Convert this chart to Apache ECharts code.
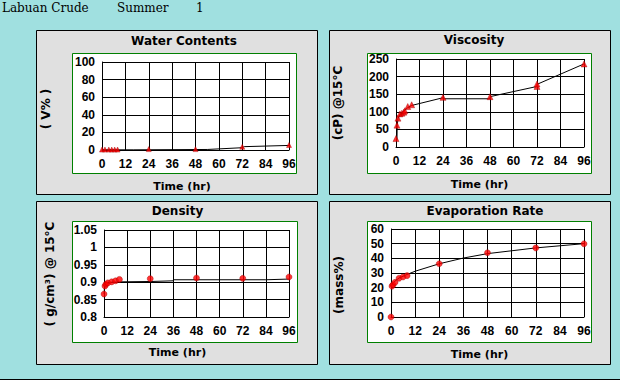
<!DOCTYPE html>
<html><head><meta charset="utf-8">
<script src="https://cdn.jsdelivr.net/npm/echarts@6/dist/echarts.min.js"></script>
<style>html,body{margin:0;padding:0;background:#a0e0e0;}#c{width:620px;height:380px;}</style>
</head><body><div id="c"></div><script>
// ---- data ----
const xTicks = [0, 12, 24, 36, 48, 60, 72, 84, 96];

const waterHours  = [0, 1.5, 3.5, 5, 6.5, 8, 24, 48, 72, 96];
const waterValues = [0.5, 0.5, 0.5, 0.5, 0.5, 0.5, 1, 1, 3.7, 5.7];
const waterFitHours  = [0, 16, 36, 54, 72, 73, 96];
const waterFitValues = [0.2, 0.2, 0.4, 0.6, 2.6, 3.8, 5.2];

const viscHours  = [0, 0.5, 1, 2, 3, 4, 4.5, 6, 8, 24, 48, 72, 72, 96];
const viscValues = [24, 62, 82, 94, 96, 99, 103, 115, 120, 141, 143, 172, 179, 236];
const viscFitHours  = [0.5, 0.6, 1, 2, 4, 6, 8, 24, 24, 48, 48, 72, 72, 96];
const viscFitValues = [20, 60, 80, 92, 102, 112, 118, 140, 137, 137, 143, 172, 178, 236];

const densHours  = [0, 0.5, 1, 2, 4, 6, 8, 24, 48, 72, 96];
const densValues = [0.866, 0.889, 0.894, 0.898, 0.901, 0.904, 0.908, 0.910, 0.912, 0.911, 0.915];
const densFitHours  = [0, 0.3, 1, 2, 4, 8, 24, 24, 36, 36, 84, 84, 96];
const densFitValues = [0.866, 0.885, 0.893, 0.897, 0.900, 0.901, 0.902, 0.904, 0.904, 0.907, 0.907, 0.909, 0.909];

const evapHours  = [0, 0.5, 1, 2, 4, 6, 8, 24, 48, 72, 96];
const evapValues = [0, 21, 22, 23.6, 26.4, 27.3, 28.2, 36.3, 43.8, 47.1, 49.9];
const evapFitHours  = [0.3, 0.3, 1, 2, 4, 8, 12, 24, 36, 48, 72, 96];
const evapFitValues = [9, 21, 23, 24.5, 26.6, 29, 31.2, 36.3, 40.2, 43.2, 47.1, 50];

const panelTitles = ['Water Contents', 'Viscosity', 'Density', 'Evaporation Rate'];
const yNames = ['( V% )', '(cP) @15°C', '( g/cm³) @ 15°C', '(mass%)'];
const xName = 'Time (hr)';
const header = ['Labuan Crude', 'Summer', '1'];

// ---- layout ----
const NUM_FONT = '"Liberation Sans", Arial, sans-serif';
const TXT_FONT = 'bold 12px "DejaVu Sans", sans-serif';
const grids = [
  {left: 102, top: 62, width: 187, height: 88},
  {left: 396, top: 59, width: 188, height: 88},
  {left: 104, top: 230, width: 185, height: 87},
  {left: 391, top: 229, width: 193, height: 88}
];
const yRanges = [
  {min: 0, max: 100, interval: 20},
  {min: 0, max: 250, interval: 50},
  {min: 0.8, max: 1.05, interval: 0.05},
  {min: 0, max: 60, interval: 10}
];
const panels = [
  [36.5, 30.5, 281, 164], [329.5, 30.5, 281, 164],
  [36.5, 201.5, 281, 163], [329.5, 201.5, 281, 163]
];
const boxes = [
  [72.5, 53.5, 224, 120], [367.5, 53.5, 224, 120],
  [72.5, 221.5, 225, 121], [367.5, 221.5, 224, 121]
];
const titlePos = [[184, 41], [474, 40], [177.5, 210.5], [485, 210.5]];
const xNamePos = [[182, 186], [479.5, 184.5], [177.5, 352.5], [479.5, 354]];
const yNamePos = [[46, 109], [338, 103], [50, 274], [338.5, 285]];

const scatterSets = [
  [waterHours, waterValues, 'triangle', 5],
  [viscHours, viscValues, 'triangle', 6],
  [densHours, densValues, 'circle', 6],
  [evapHours, evapValues, 'circle', 6]
];
const fitSets = [
  [waterFitHours, waterFitValues],
  [viscFitHours, viscFitValues],
  [densFitHours, densFitValues],
  [evapFitHours, evapFitValues]
];
const zip = (a, b) => a.map((v, i) => [v, b[i]]);

const xAxis = grids.map((g, i) => ({
  gridIndex: i, type: 'value', min: xTicks[0], max: xTicks[xTicks.length - 1], interval: 12,
  axisLine: {show: true, onZero: false, lineStyle: {color: '#000', width: 1}},
  axisTick: {show: false},
  splitLine: {show: true, lineStyle: {color: '#000', width: 1}},
  axisLabel: {color: '#000', fontWeight: 'bold', fontSize: 12, fontFamily: NUM_FONT, margin: 8}
}));
const yAxis = grids.map((g, i) => ({
  gridIndex: i, type: 'value', min: yRanges[i].min, max: yRanges[i].max, interval: yRanges[i].interval,
  axisLine: {show: true, onZero: false, lineStyle: {color: '#000', width: 1}},
  axisTick: {show: false},
  splitLine: {show: true, lineStyle: {color: '#000', width: 1}},
  axisLabel: {color: '#000', fontWeight: 'bold', fontSize: 12, fontFamily: NUM_FONT, margin: 7}
}));

const series = [];
fitSets.forEach((f, i) => series.push({
  type: 'line', xAxisIndex: i, yAxisIndex: i, data: zip(f[0], f[1]),
  showSymbol: false, symbol: 'none', silent: true, z: 3,
  lineStyle: {color: '#000', width: 1}
}));
scatterSets.forEach((s, i) => series.push({
  type: 'scatter', xAxisIndex: i, yAxisIndex: i, data: zip(s[0], s[1]),
  symbol: s[2], symbolSize: s[3], silent: true, z: 4,
  itemStyle: {color: '#ff0000', borderColor: '#a00000', borderWidth: 0.5}
}));

const graphic = [];
panels.forEach(p => graphic.push({type: 'rect', z: -20, shape: {x: p[0], y: p[1], width: p[2], height: p[3]},
  style: {fill: '#e0e0e0', stroke: '#000', lineWidth: 1}}));
boxes.forEach(b => graphic.push({type: 'rect', z: -10, shape: {x: b[0], y: b[1], width: b[2], height: b[3]},
  style: {fill: '#fff', stroke: '#008000', lineWidth: 1}}));
graphic.push({type: 'rect', z: -20, shape: {x: 0, y: 379, width: 620, height: 1}, style: {fill: '#000'}});
panelTitles.forEach((t, i) => graphic.push({type: 'text', z: 10, x: titlePos[i][0], y: titlePos[i][1],
  style: {text: t, font: TXT_FONT, fill: '#000', align: 'center', verticalAlign: 'middle'}}));
xNamePos.forEach(p => graphic.push({type: 'text', z: 10, x: p[0], y: p[1],
  style: {text: xName, font: 'bold 11px "DejaVu Sans", sans-serif', fill: '#000', align: 'center', verticalAlign: 'middle'}}));
yNames.forEach((t, i) => graphic.push({type: 'text', z: 10, x: yNamePos[i][0], y: yNamePos[i][1], rotation: Math.PI / 2,
  style: {text: t, font: TXT_FONT, fill: '#000', align: 'center', verticalAlign: 'middle'}}));
const headerX = [2, 117, 196];
header.forEach((t, i) => graphic.push({type: 'text', z: 10, x: headerX[i], y: 8,
  style: {text: t, font: '12px "DejaVu Serif", serif', fill: '#000', align: 'left', verticalAlign: 'middle'}}));

const chart = echarts.init(document.getElementById('c'), null, {renderer: 'svg'});
chart.setOption({
  backgroundColor: '#a0e0e0',
  animation: false,
  grid: grids.map(g => Object.assign({containLabel: false}, g)),
  xAxis, yAxis, series, graphic
});
</script></body></html>
